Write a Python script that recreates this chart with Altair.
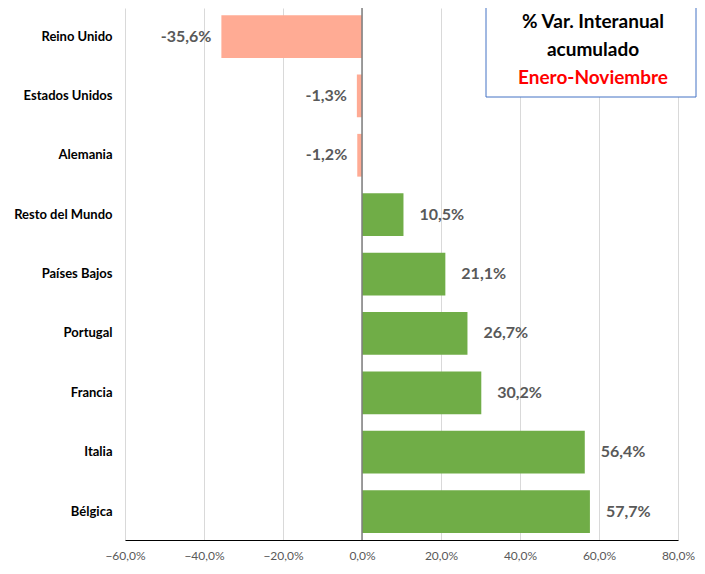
import altair as alt
import pandas as pd

countries = ["Reino Unido", "Estados Unidos", "Alemania", "Resto del Mundo",
             "Países Bajos", "Portugal", "Francia", "Italia", "Bélgica"]
values = [-35.6, -1.3, -1.2, 10.5, 21.1, 26.7, 30.2, 56.4, 57.7]

title_lines = ["% Var. Interanual", "acumulado", "Enero-Noviembre"]
title_colors = ["#000000", "#000000", "#FF0000"]

df = pd.DataFrame({"pais": countries, "valor": values})
df["label"] = [f"{v:.1f}".replace(".", ",") + "%" for v in values]
df["signo"] = ["neg" if v < 0 else "pos" for v in values]

FONT = "Lato"

x_scale = alt.Scale(domain=[-60, 80], nice=False, zero=False)
y_scale = alt.Scale(domain=countries, paddingInner=0.28, paddingOuter=0.12)

base = alt.Chart(df)

bars = base.mark_bar().encode(
    y=alt.Y("pais:N", scale=y_scale, sort=countries, title=None,
            axis=alt.Axis(domain=False, ticks=False, labelFont=FONT, labelFontSize=13,
                          labelFontWeight="bold", labelColor="#000000", labelPadding=13,
                          grid=False)),
    x=alt.X("valor:Q", scale=x_scale, title=None,
            axis=alt.Axis(values=[-60, -40, -20, 0, 20, 40, 60, 80],
                          labelExpr="replace(format(datum.value, '.1f'), '.', ',') + '%'",
                          labelFont=FONT, labelFontSize=12, labelColor="#595959",
                          labelPadding=10, ticks=False, domainColor="#000000",
                          domainWidth=1.2, gridColor="#D9D9D9", gridWidth=1,
                          labelFlush=False)),
    color=alt.Color("signo:N", scale=alt.Scale(domain=["neg", "pos"],
                                               range=["#FFAB94", "#70AD47"]), legend=None),
)

zero = alt.Chart(pd.DataFrame({"z": [0]})).mark_rule(color="#7F7F7F", strokeWidth=1.5).encode(
    x=alt.X("z:Q", scale=x_scale)
)

labels_pos = base.transform_filter("datum.valor >= 0").mark_text(
    align="left", baseline="middle", dx=16, font=FONT, fontSize=16,
    fontWeight="bold", color="#595959"
).encode(
    y=alt.Y("pais:N", scale=y_scale, sort=countries),
    x=alt.X("valor:Q", scale=x_scale),
    text="label:N",
)

labels_neg = base.transform_filter("datum.valor < 0").mark_text(
    align="right", baseline="middle", dx=-10, font=FONT, fontSize=16,
    fontWeight="bold", color="#595959"
).encode(
    y=alt.Y("pais:N", scale=y_scale, sort=countries),
    x=alt.X("valor:Q", scale=x_scale),
    text="label:N",
)

box = alt.Chart(pd.DataFrame({"a": [0]})).mark_rect(
    fill="#FFFFFF", stroke="#4472C4", strokeWidth=1
).encode(
    x=alt.value(361), x2=alt.value(571), y=alt.value(-4), y2=alt.value(89)
)

title_layers = []
for line, col, ypos in zip(title_lines, title_colors, [14, 42, 70]):
    title_layers.append(
        alt.Chart(pd.DataFrame({"t": [line]})).mark_text(
            align="center", baseline="middle", font=FONT, fontSize=19,
            fontWeight="bold", color=col
        ).encode(x=alt.value(468), y=alt.value(ypos), text="t:N")
    )

chart = alt.layer(bars, zero, labels_pos, labels_neg, box, *title_layers).properties(
    width=553, height=532,
    autosize=alt.AutoSizeParams(type="none"),
    padding={"left": 117, "top": 0, "right": 19, "bottom": 26},
).configure_view(stroke=None)

chart.save("out.html", embed_options={"renderer": "svg", "actions": False})
